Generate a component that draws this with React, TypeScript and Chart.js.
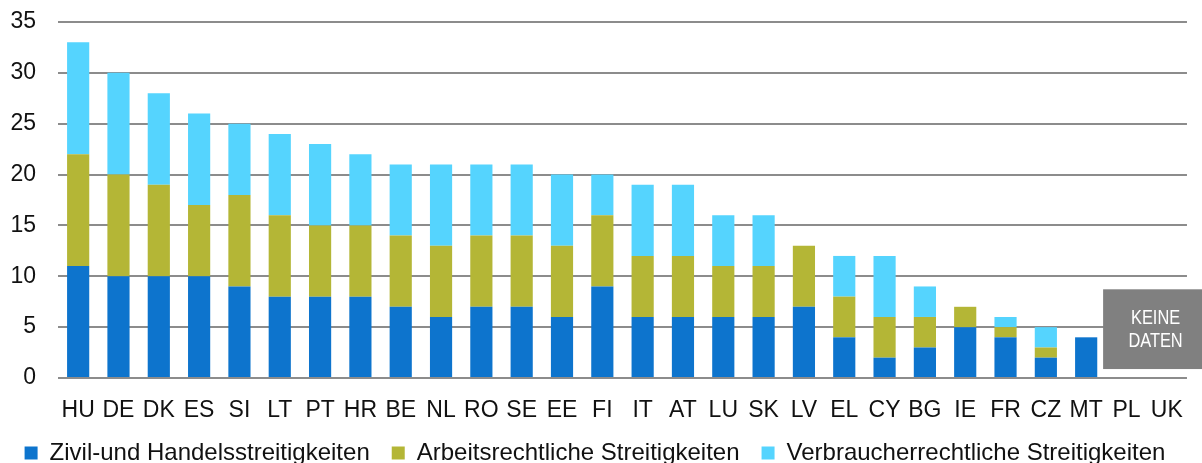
import React, { useEffect, useRef } from "react";
import { Chart, registerables } from "chart.js";

Chart.register(...registerables);

const categories = ["HU", "DE", "DK", "ES", "SI", "LT", "PT", "HR", "BE", "NL", "RO", "SE", "EE", "FI", "IT", "AT", "LU", "SK", "LV", "EL", "CY", "BG", "IE", "FR", "CZ", "MT", "PL", "UK"];
const civilCommercial = [11, 10, 10, 10, 9, 8, 8, 8, 7, 6, 7, 7, 6, 9, 6, 6, 6, 6, 7, 4, 2, 3, 5, 4, 2, 4, null, null];
const labour = [11, 10, 9, 7, 9, 8, 7, 7, 7, 7, 7, 7, 7, 7, 6, 6, 5, 5, 6, 4, 4, 3, 2, 1, 1, 0, null, null];
const consumer = [11, 10, 9, 9, 7, 8, 8, 7, 7, 8, 7, 7, 7, 4, 7, 7, 5, 5, 0, 4, 6, 3, 0, 1, 2, 0, null, null];
const seriesNames = ["Zivil-und Handelsstreitigkeiten", "Arbeitsrechtliche Streitigkeiten", "Verbraucherrechtliche Streitigkeiten"];
const seriesColors = ["#0D74CD", "#B4B636", "#55D4FE"];
const yTicks = [0, 5, 10, 15, 20, 25, 30, 35];
const noDataLabel = ["KEINE", "DATEN"];
const noDataFrom = 25.42; // category position where the "no data" box starts
const noDataRange = [0.88, 8.72]; // value range covered by the "no data" box

const FONT = "'Liberation Sans', Arial, sans-serif";

const noDataPlugin = {
  id: "noData",
  afterDatasetsDraw(chart: any) {
    const { ctx, scales } = chart;
    const x0 = scales.x.getPixelForValue(noDataFrom);
    const x1 = chart.width;
    const yTop = scales.y.getPixelForValue(noDataRange[1]);
    const yBot = scales.y.getPixelForValue(noDataRange[0]);
    ctx.save();
    ctx.fillStyle = "#808080";
    ctx.fillRect(x0, yTop, x1 - x0, yBot - yTop);
    ctx.fillStyle = "#ffffff";
    ctx.textAlign = "center";
    ctx.textBaseline = "middle";
    ctx.font = `21px ${FONT}`;
    const cx = (x0 + x1) / 2 + 3;
    const cy = (yTop + yBot) / 2;
    ctx.translate(cx, cy);
    ctx.scale(0.78, 1);
    ctx.fillText(noDataLabel[0], 0, -11);
    ctx.fillText(noDataLabel[1], 0, 12);
    ctx.restore();
  },
};

export default function App() {
  const ref = useRef<HTMLCanvasElement>(null);
  useEffect(() => {
    document.body.style.margin = "0";
    const values = [civilCommercial, labour, consumer];
    const chart = new Chart(ref.current!, {
      type: "bar",
      data: {
        labels: categories,
        datasets: values.map((v, i) => ({
          label: seriesNames[i],
          data: v,
          backgroundColor: seriesColors[i],
          borderWidth: 0,
          barPercentage: 0.55,
          categoryPercentage: 1,
        })),
      },
      options: {
        animation: false,
        responsive: false,
        maintainAspectRatio: false,
        layout: { padding: { top: 22, right: 12, left: 0, bottom: -12 } },
        plugins: {
          tooltip: { enabled: false },
          legend: {
            position: "bottom",
            labels: {
              boxWidth: 13,
              boxHeight: 13,
              padding: 22,
              color: "#111",
              font: { family: FONT, size: 24 },
            },
          },
        },
        scales: {
          x: {
            stacked: true,
            grid: { display: false, drawTicks: false },
            border: { display: false },
            ticks: { color: "#111", font: { family: FONT, size: 23 }, padding: 19, maxRotation: 0, autoSkip: false },
            afterFit(scale: any) {
              scale.height = 41;
            },
          },
          y: {
            stacked: true,
            min: 0,
            max: 35,
            afterBuildTicks(scale: any) {
              scale.ticks = yTicks.map((v) => ({ value: v }));
            },
            grid: { color: "#8C8C8C", lineWidth: 2, drawTicks: false },
            border: { display: false },
            ticks: { color: "#111", font: { family: FONT, size: 23 }, padding: 22 },
            afterFit(scale: any) {
              scale.width = 58;
              scale.paddingTop = 0;
              scale.paddingBottom = 0;
            },
          },
        },
      },
      plugins: [noDataPlugin],
    });
    return () => chart.destroy();
  }, []);
  return <canvas ref={ref} width={1202} height={463} style={{ display: "block" }} />;
}
